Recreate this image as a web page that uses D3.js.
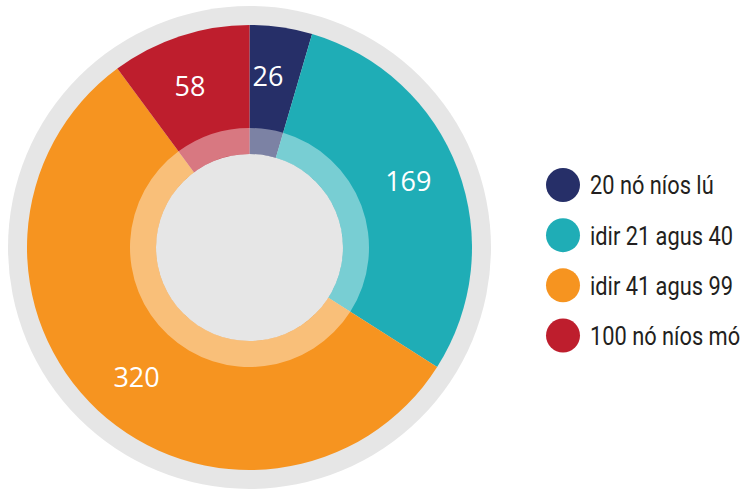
<!DOCTYPE html>
<html>
<head>
<meta charset="utf-8">
<script src="https://cdn.jsdelivr.net/npm/d3@7"></script>
<style>
  body { margin: 0; background: #fff; }
  svg { display: block; }
</style>
</head>
<body>
<svg width="741" height="491"></svg>
<script>
var categories = ["20 nó níos lú", "idir 21 agus 40", "idir 41 agus 99", "100 nó níos mó"];
var values = [26, 169, 320, 58];
var colors = ["#262f68", "#1fadb6", "#f69420", "#be1e2d"];

var svg = d3.select('svg');
var cx = 249.5, cy = 247.5;

var g = svg.append('g')
    .attr('transform', 'translate(' + cx + ',' + cy + ')');

// grey backdrop disc
g.append('circle')
    .attr('r', 241.5)
    .attr('fill', '#e6e6e6');

var pie = d3.pie().sort(null).value(function(d) { return d; });
var arcs = pie(values);

var outerArc = d3.arc().innerRadius(0).outerRadius(222.5);
var innerArc = d3.arc().innerRadius(93.5).outerRadius(119.5);

g.selectAll('path.slice')
    .data(arcs)
    .enter()
    .append('path')
    .attr('class', 'slice')
    .attr('d', outerArc)
    .attr('fill', function(d, i) { return colors[i]; });

// lighter inner band
g.selectAll('path.band')
    .data(arcs)
    .enter()
    .append('path')
    .attr('class', 'band')
    .attr('d', innerArc)
    .attr('fill', '#fff')
    .attr('fill-opacity', 0.4);

g.append('circle')
    .attr('r', 93.5)
    .attr('fill', '#e6e6e6');

// value labels
var labelR = 172, shift = -2 * Math.PI / 180;
g.selectAll('text.val')
    .data(arcs)
    .enter()
    .append('text')
    .attr('class', 'val')
    .attr('x', function(d) { return labelR * Math.sin((d.startAngle + d.endAngle) / 2 + shift); })
    .attr('y', function(d) { return -labelR * Math.cos((d.startAngle + d.endAngle) / 2 + shift); })
    .attr('dy', '0.35em')
    .attr('text-anchor', 'middle')
    .attr('fill', '#fff')
    .style('font-family', '"Open Sans", sans-serif')
    .style('font-size', '27px')
    .text(function(d) { return d.data; });

// legend
var y = d3.scalePoint()
    .domain(categories)
    .range([185, 335.5]);

var legend = svg.append('g');
var rows = legend.selectAll('g')
    .data(categories)
    .enter()
    .append('g')
    .attr('transform', function(d) { return 'translate(563,' + y(d) + ')'; });

rows.append('circle')
    .attr('r', 17)
    .attr('fill', function(d, i) { return colors[i]; });

// condensed look: squeeze Roboto horizontally
var labels = rows.append('g')
    .attr('transform', 'translate(27,0)')
    .append('text')
    .attr('dy', '0.36em')
    .attr('fill', '#231f20')
    .style('font-family', 'Roboto, sans-serif')
    .style('font-size', '26px')
    .text(function(d) { return d; });

var w = labels.nodes()[1].getComputedTextLength();
var sx = 143 / w;
labels.attr('transform', 'scale(' + sx + ',1)');
</script>
</body>
</html>
